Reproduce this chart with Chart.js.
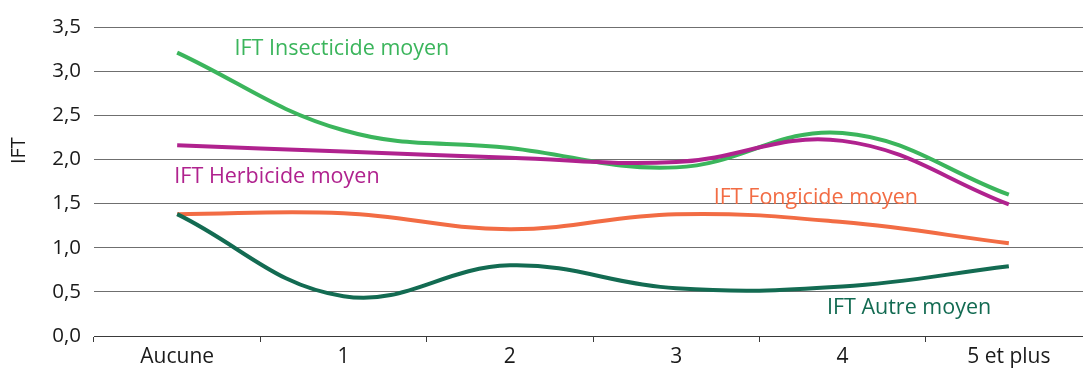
<!DOCTYPE html>
<html>
<head>
<meta charset="utf-8">
<script src="https://cdn.jsdelivr.net/npm/chart.js@4/dist/chart.umd.min.js"></script>
<style>
  html, body { margin: 0; padding: 0; background: #fff; overflow: hidden; }
  #wrap { width: 1100px; height: 369px; }
</style>
</head>
<body>
<div id="wrap"><canvas id="iftChart" width="1100" height="369"></canvas></div>
<script>
// Number of treatments categories
const categories = ['Aucune', '1', '2', '3', '4', '5 et plus'];

// IFT values
const insecticide = [3.21, 2.33, 2.13, 1.91, 2.30, 1.60];
const herbicide = [2.16, 2.09, 2.02, 1.97, 2.21, 1.49];
const fongicide = [1.38, 1.39, 1.21, 1.38, 1.29, 1.05];
const autre = [1.38, 0.45, 0.80, 0.54, 0.56, 0.79];

const yTicks = [0, 0.5, 1, 1.5, 2, 2.5, 3, 3.5];

const colors = {
    insecticide: '#3bb55c',
    herbicide: '#b0228e',
    fongicide: '#f26c44',
    autre: '#136b52'
};

// Series names written next to the curves (x = category index, y = IFT)
const seriesLabels = [
    { text: 'IFT Insecticide moyen', color: colors.insecticide, x: 0.99, y: 3.25 },
    { text: 'IFT Herbicide moyen', color: colors.herbicide, x: 0.60, y: 1.80 },
    { text: 'IFT Fongicide moyen', color: colors.fongicide, x: 3.84, y: 1.57 },
    { text: 'IFT Autre moyen', color: colors.autre, x: 4.40, y: 0.32 }
];

const FONT = '"Open Sans", "Noto Sans", sans-serif';

const labelPlugin = {
    id: 'seriesLabels',
    afterDatasetsDraw(chart) {
        const ctx = chart.ctx;
        const xs = chart.scales.x;
        const ys = chart.scales.y;
        ctx.save();
        ctx.font = '21.5px ' + FONT;
        ctx.textAlign = 'center';
        ctx.textBaseline = 'middle';
        for (const l of seriesLabels) {
            const px = xs.getPixelForValue(0) + l.x * (xs.getPixelForValue(1) - xs.getPixelForValue(0));
            ctx.fillStyle = l.color;
            ctx.fillText(l.text, px, ys.getPixelForValue(l.y));
        }
        // axis title
        ctx.fillStyle = '#1a1a1a';
        ctx.font = '20px ' + FONT;
        ctx.translate(19, ys.getPixelForValue(2.1));
        ctx.rotate(-Math.PI / 2);
        ctx.fillText('IFT', 0, 0);
        ctx.restore();
    }
};

function makeSet(label, data, color) {
    return {
        label: label,
        data: data,
        borderColor: color,
        backgroundColor: color,
        borderWidth: 4,
        pointRadius: 0,
        tension: 0.4,
        fill: false
    };
}

const ctx = document.getElementById('iftChart').getContext('2d');
const chart = new Chart(ctx, {
    type: 'line',
    data: {
        labels: categories,
        datasets: [
            makeSet('IFT Autre moyen', autre, colors.autre),
            makeSet('IFT Fongicide moyen', fongicide, colors.fongicide),
            makeSet('IFT Herbicide moyen', herbicide, colors.herbicide),
            makeSet('IFT Insecticide moyen', insecticide, colors.insecticide)
        ]
    },
    options: {
        responsive: false,
        animation: false,
        layout: { padding: { left: 0, right: 8, top: 27, bottom: 0 } },
        plugins: {
            legend: { display: false },
            tooltip: { enabled: false }
        },
        scales: {
            x: {
                offset: true,
                afterFit(scale) { scale.height = 33; },
                border: { display: true, color: '#3a3a3a', width: 1 },
                grid: {
                    offset: true,
                    drawOnChartArea: false,
                    drawTicks: true,
                    tickLength: 6,
                    color: '#3a3a3a'
                },
                ticks: {
                    color: '#1a1a1a',
                    font: { family: FONT, size: 21 },
                    padding: 2,
                    maxRotation: 0,
                    autoSkip: false
                }
            },
            y: {
                min: 0,
                max: 3.5,
                afterFit(scale) { scale.width = 94; },
                afterBuildTicks(scale) { scale.ticks = yTicks.map(v => ({ value: v })); },
                border: { display: false },
                grid: {
                    drawTicks: false,
                    color: '#6f6f6f',
                    lineWidth: 1
                },
                ticks: {
                    color: '#1a1a1a',
                    font: { family: FONT, size: 20.5 },
                    padding: 13,
                    callback: v => v.toFixed(1).replace('.', ',')
                }
            }
        }
    },
    plugins: [labelPlugin]
});
</script>
</body>
</html>
